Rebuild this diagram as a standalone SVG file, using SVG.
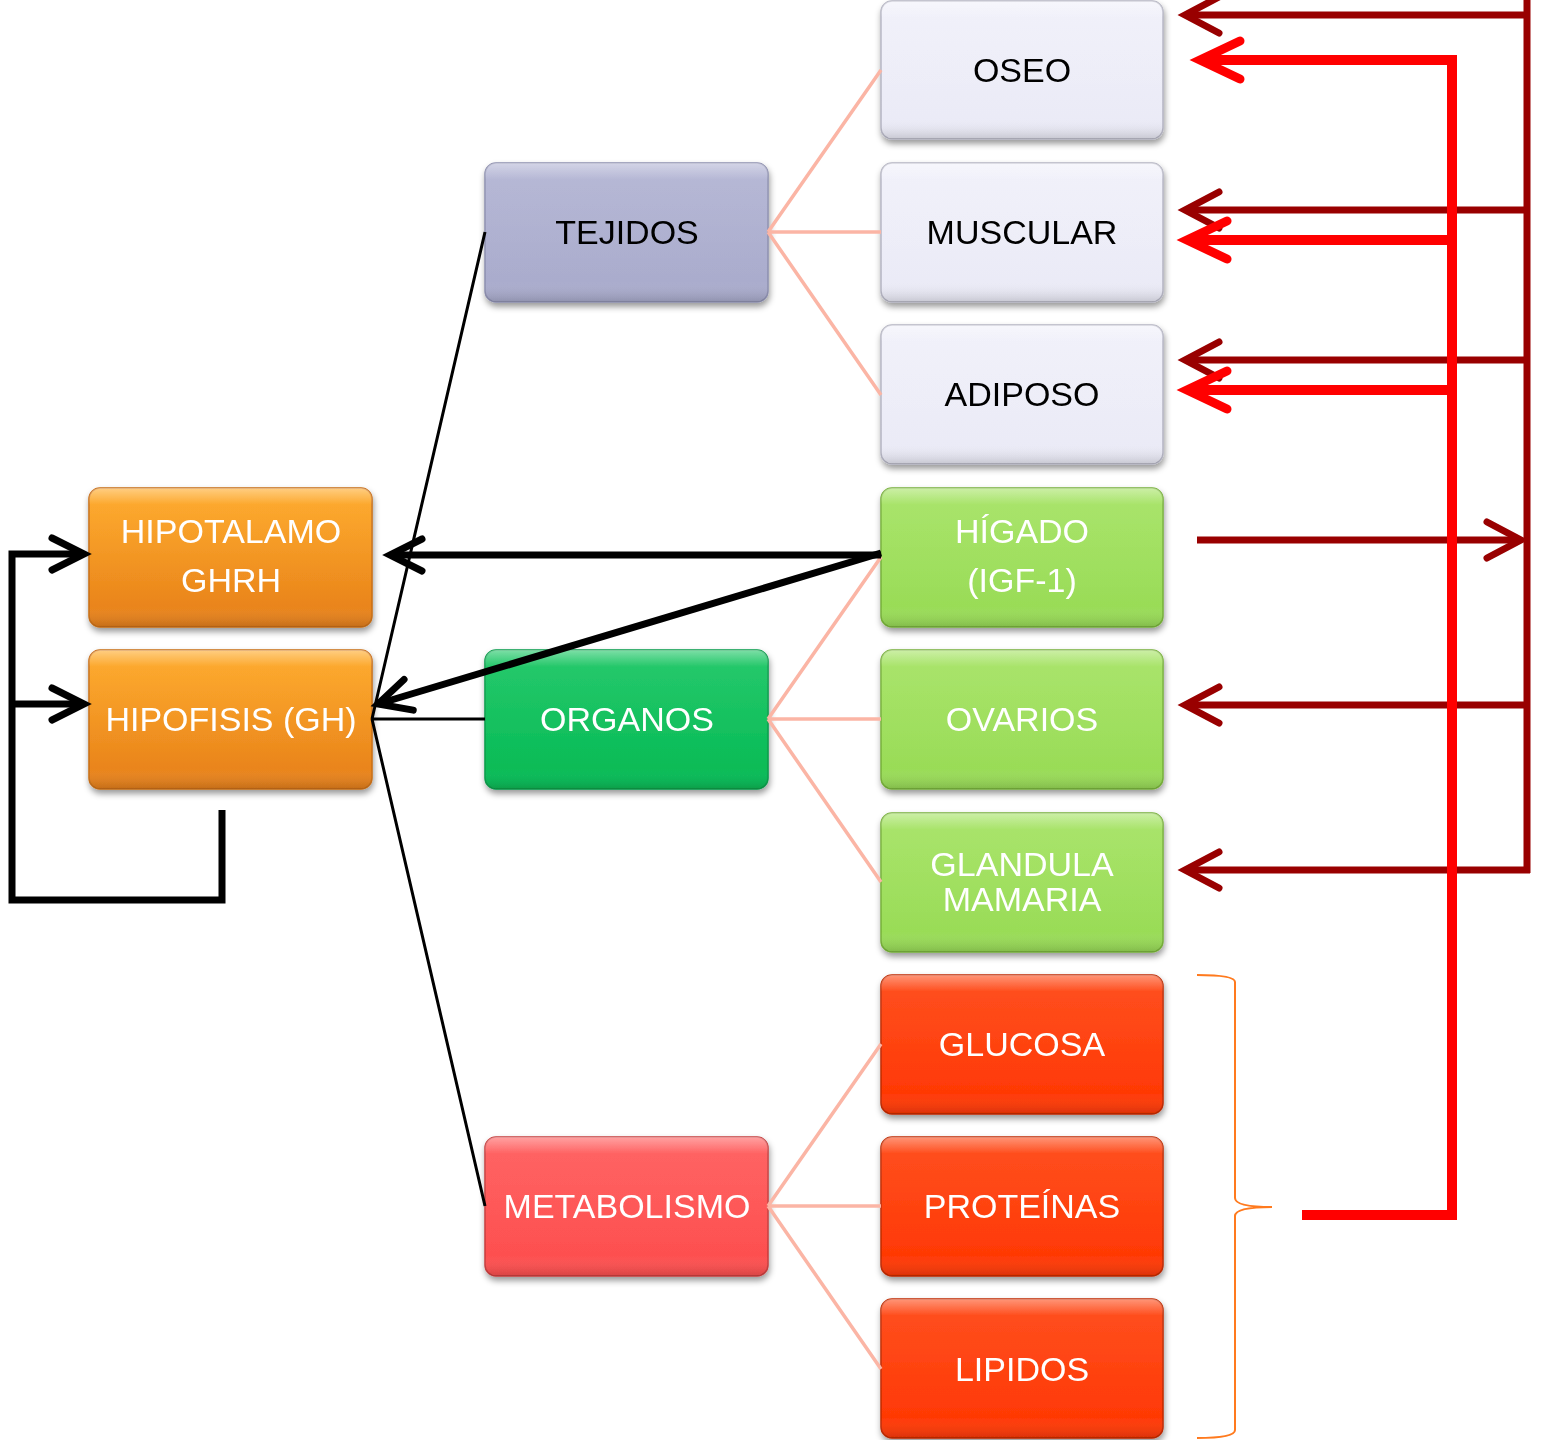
<svg xmlns="http://www.w3.org/2000/svg" width="1541" height="1440" viewBox="0 0 1541 1440">
<style>
text{font-family:"Liberation Sans",Arial,sans-serif;font-size:34px;text-anchor:middle}
.w{fill:#ffffff}.k{fill:#000000}
.box{filter:url(#sh)}
.gloss{fill:url(#gl);pointer-events:none}
.pink{stroke:#FBB5A5;stroke-width:3.5;fill:none}
.thin{stroke:#000;stroke-width:3;fill:none}
.thick{stroke:#000;stroke-width:7;fill:none;stroke-linejoin:miter}
.dred{stroke:#990000;stroke-width:7;fill:none}
.red{stroke:#FF0000;stroke-width:10;fill:none}
.brace{stroke:#FF7A1E;stroke-width:2;fill:none}
</style>
<defs>
<filter id="sh" x="-10%" y="-10%" width="125%" height="130%">
<feDropShadow dx="1" dy="4" stdDeviation="3" flood-color="#000" flood-opacity="0.4"/>
</filter>
<linearGradient id="gl" x1="0" y1="0" x2="0" y2="1">
<stop offset="0" stop-color="#fff" stop-opacity="0.45"/>
<stop offset="0.12" stop-color="#fff" stop-opacity="0.08"/>
<stop offset="0.85" stop-color="#fff" stop-opacity="0"/>
<stop offset="1" stop-color="#000" stop-opacity="0.15"/>
</linearGradient>
<linearGradient id="gOr" x1="0" y1="0" x2="0" y2="1"><stop offset="0" stop-color="#FFA51C"/><stop offset="1" stop-color="#E67F1A"/></linearGradient>
<linearGradient id="gLav" x1="0" y1="0" x2="0" y2="1"><stop offset="0" stop-color="#F0F0FA"/><stop offset="1" stop-color="#EAEAF6"/></linearGradient>
<linearGradient id="gTej" x1="0" y1="0" x2="0" y2="1"><stop offset="0" stop-color="#B0B2D2"/><stop offset="1" stop-color="#A9ABCC"/></linearGradient>
<linearGradient id="gLg" x1="0" y1="0" x2="0" y2="1"><stop offset="0" stop-color="#A2E25E"/><stop offset="1" stop-color="#98DB56"/></linearGradient>
<linearGradient id="gOrg" x1="0" y1="0" x2="0" y2="1"><stop offset="0" stop-color="#12C45E"/><stop offset="1" stop-color="#07BA55"/></linearGradient>
<linearGradient id="gRo" x1="0" y1="0" x2="0" y2="1"><stop offset="0" stop-color="#FF3F0A"/><stop offset="1" stop-color="#FF3804"/></linearGradient>
<linearGradient id="gMet" x1="0" y1="0" x2="0" y2="1"><stop offset="0" stop-color="#FF5656"/><stop offset="1" stop-color="#FD4E4E"/></linearGradient>
<marker id="aK" markerUnits="userSpaceOnUse" markerWidth="60" markerHeight="60" refX="0" refY="0" orient="auto" overflow="visible">
<path d="M-32,-16 L0,0 L-32,16" fill="none" stroke="#000" stroke-width="7" stroke-linecap="round" stroke-linejoin="miter"/>
</marker>
<marker id="aD" markerUnits="userSpaceOnUse" markerWidth="60" markerHeight="60" refX="0" refY="0" orient="auto" overflow="visible">
<path d="M-34,-18 L0,0 L-34,18" fill="none" stroke="#990000" stroke-width="7" stroke-linecap="round"/>
</marker>
<marker id="aR" markerUnits="userSpaceOnUse" markerWidth="60" markerHeight="60" refX="0" refY="0" orient="auto" overflow="visible">
<path d="M-40,-19 L0,0 L-40,19" fill="none" stroke="#FF0000" stroke-width="9" stroke-linecap="round"/>
</marker>
</defs>
<rect width="1541" height="1440" fill="#ffffff"/>

<g id="hipotalamo" class="box"><rect x="89" y="488" width="283" height="139" rx="11" fill="url(#gOr)" stroke="#C86E16" stroke-width="1.5"/><rect x="89" y="488" width="283" height="139" rx="11" class="gloss"/><text class="w" x="231" y="543">HIPOTALAMO</text><text class="w" x="231" y="592">GHRH</text></g>
<g id="hipofisis" class="box"><rect x="89" y="650" width="283" height="139" rx="11" fill="url(#gOr)" stroke="#C86E16" stroke-width="1.5"/><rect x="89" y="650" width="283" height="139" rx="11" class="gloss"/><text class="w" x="231" y="731">HIPOFISIS (GH)</text></g>

<g id="tejidos" class="box"><rect x="485" y="163" width="283" height="139" rx="11" fill="url(#gTej)" stroke="#8C8EAE" stroke-width="1.5"/><rect x="485" y="163" width="283" height="139" rx="11" class="gloss"/><text class="k" x="627" y="244">TEJIDOS</text></g>
<g id="organos" class="box"><rect x="485" y="650" width="283" height="139" rx="11" fill="url(#gOrg)" stroke="#089A48" stroke-width="1.5"/><rect x="485" y="650" width="283" height="139" rx="11" class="gloss"/><text class="w" x="627" y="731">ORGANOS</text></g>
<g id="metabolismo" class="box"><rect x="485" y="1137" width="283" height="139" rx="11" fill="url(#gMet)" stroke="#C63C3C" stroke-width="1.5"/><rect x="485" y="1137" width="283" height="139" rx="11" class="gloss"/><text class="w" x="627" y="1218">METABOLISMO</text></g>

<g id="oseo" class="box"><rect x="881" y="1" width="282" height="138" rx="11" fill="url(#gLav)" stroke="#B4B4C2" stroke-width="1.5"/><rect x="881" y="1" width="282" height="138" rx="11" class="gloss"/><text class="k" x="1022" y="82">OSEO</text></g>
<g id="muscular" class="box"><rect x="881" y="163" width="282" height="139" rx="11" fill="url(#gLav)" stroke="#B4B4C2" stroke-width="1.5"/><rect x="881" y="163" width="282" height="139" rx="11" class="gloss"/><text class="k" x="1022" y="244">MUSCULAR</text></g>
<g id="adiposo" class="box"><rect x="881" y="325" width="282" height="139" rx="11" fill="url(#gLav)" stroke="#B4B4C2" stroke-width="1.5"/><rect x="881" y="325" width="282" height="139" rx="11" class="gloss"/><text class="k" x="1022" y="406">ADIPOSO</text></g>
<g id="higado" class="box"><rect x="881" y="488" width="282" height="139" rx="11" fill="url(#gLg)" stroke="#76B038" stroke-width="1.5"/><rect x="881" y="488" width="282" height="139" rx="11" class="gloss"/><text class="w" x="1022" y="543">HÍGADO</text><text class="w" x="1022" y="592">(IGF-1)</text></g>
<g id="ovarios" class="box"><rect x="881" y="650" width="282" height="139" rx="11" fill="url(#gLg)" stroke="#76B038" stroke-width="1.5"/><rect x="881" y="650" width="282" height="139" rx="11" class="gloss"/><text class="w" x="1022" y="731">OVARIOS</text></g>
<g id="glandula" class="box"><rect x="881" y="813" width="282" height="139" rx="11" fill="url(#gLg)" stroke="#76B038" stroke-width="1.5"/><rect x="881" y="813" width="282" height="139" rx="11" class="gloss"/><text class="w" x="1022" y="876">GLANDULA</text><text class="w" x="1022" y="911">MAMARIA</text></g>
<g id="glucosa" class="box"><rect x="881" y="975" width="282" height="139" rx="11" fill="url(#gRo)" stroke="#C02A00" stroke-width="1.5"/><rect x="881" y="975" width="282" height="139" rx="11" class="gloss"/><text class="w" x="1022" y="1056">GLUCOSA</text></g>
<g id="proteinas" class="box"><rect x="881" y="1137" width="282" height="139" rx="11" fill="url(#gRo)" stroke="#C02A00" stroke-width="1.5"/><rect x="881" y="1137" width="282" height="139" rx="11" class="gloss"/><text class="w" x="1022" y="1218">PROTEÍNAS</text></g>
<g id="lipidos" class="box"><rect x="881" y="1299" width="282" height="139" rx="11" fill="url(#gRo)" stroke="#C02A00" stroke-width="1.5"/><rect x="881" y="1299" width="282" height="139" rx="11" class="gloss"/><text class="w" x="1022" y="1381">LIPIDOS</text></g>

<g id="connectors">
<path class="pink" d="M768,232 L881,70 M768,232 H881 M768,232 L881,395"/>
<path class="pink" d="M768,719 L881,557 M768,719 H881 M768,719 L881,882"/>
<path class="pink" d="M768,1206 L881,1044 M768,1206 H881 M768,1206 L881,1369"/>
<path class="thin" d="M372,719 L485,232 M372,719 H485 M372,719 L485,1206"/>
<path class="thick" d="M222,810 V900 H12 V554 H84" marker-end="url(#aK)"/>
<path class="thick" d="M12,704 H84" marker-end="url(#aK)"/>
<path class="thick" d="M881,555 H390" marker-end="url(#aK)"/>
<path class="thick" stroke-width="6" d="M881,553 L378,704" marker-end="url(#aK)"/>
<path class="dred" d="M1527,0 V873"/>
<path class="dred" d="M1530,15 H1185" marker-end="url(#aD)"/>
<path class="dred" d="M1527,210 H1185" marker-end="url(#aD)"/>
<path class="dred" d="M1527,360 H1185" marker-end="url(#aD)"/>
<path class="dred" d="M1527,705 H1185" marker-end="url(#aD)"/>
<path class="dred" d="M1530,870 H1185" marker-end="url(#aD)"/>
<path class="dred" d="M1197,540 H1521" marker-end="url(#aD)"/>
<path class="red" d="M1452,56 V1220"/>
<path class="red" d="M1457,60 H1200" marker-end="url(#aR)"/>
<path class="red" d="M1452,240 H1187" marker-end="url(#aR)"/>
<path class="red" d="M1452,390 H1187" marker-end="url(#aR)"/>
<path class="red" d="M1302,1215 H1457"/>
<path class="brace" d="M1197,975 C1215,975 1235,976 1235,982 V1198 C1235,1205 1250,1207 1272,1207 C1250,1207 1235,1209 1235,1216 V1430 C1235,1437 1215,1438 1197,1438"/>
</g>
</svg>
